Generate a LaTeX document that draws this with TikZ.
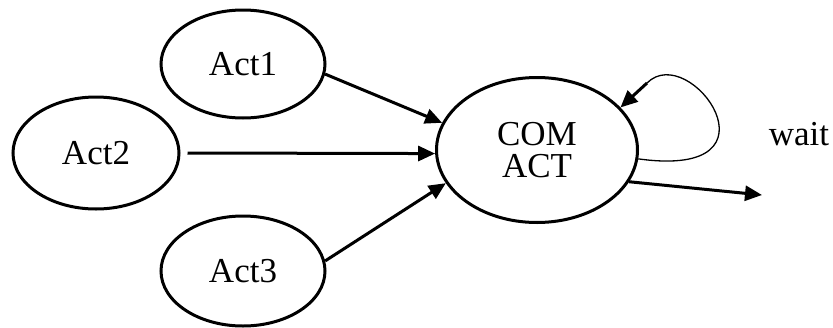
\documentclass[tikz,border=0pt]{standalone}
\usepackage{fontspec}
\setmainfont{Liberation Serif}
\usetikzlibrary{shapes.geometric,arrows.meta}
\begin{document}
\begin{tikzpicture}[x=1pt,y=-1pt,
  state/.style={ellipse,draw,line width=3pt,inner sep=0pt,font=\fontsize{35}{32}\selectfont,align=center},
  flow/.style={line width=3pt,-{Triangle[length=17pt,width=15pt]}},
  thinline/.style={line width=1.3pt}]
\useasboundingbox (0,0) rectangle (833,327);
\node[state,minimum width=164pt,minimum height=108pt] (a1) at (243,64) {Act1};
\node[state,minimum width=166pt,minimum height=112pt] (a2) at (96,153) {Act2};
\node[state,minimum width=164pt,minimum height=110pt] (a3) at (243,271) {Act3};
\node[state,minimum width=201pt,minimum height=145pt] (com) at (537,150) {COM\\ACT};
\node[font=\fontsize{35}{32}\selectfont,anchor=base,inner sep=0pt] (wait) at (799,145) {wait};
\coordinate (out) at (762,195);
\coordinate (loopend) at (647,83);
\draw[flow] (a1.-7) -- (com.164);
\draw[flow] ([xshift=7pt]a2.east) -- (com.182);
\draw[flow] (a3.7) -- (com.-160);
\draw[thinline] (com.-5) .. controls (790,180) and (690,40) .. (loopend);
\draw[flow] (loopend) -- (com.27);
\draw[flow] (com.-19) -- (out);
\end{tikzpicture}
\end{document}
